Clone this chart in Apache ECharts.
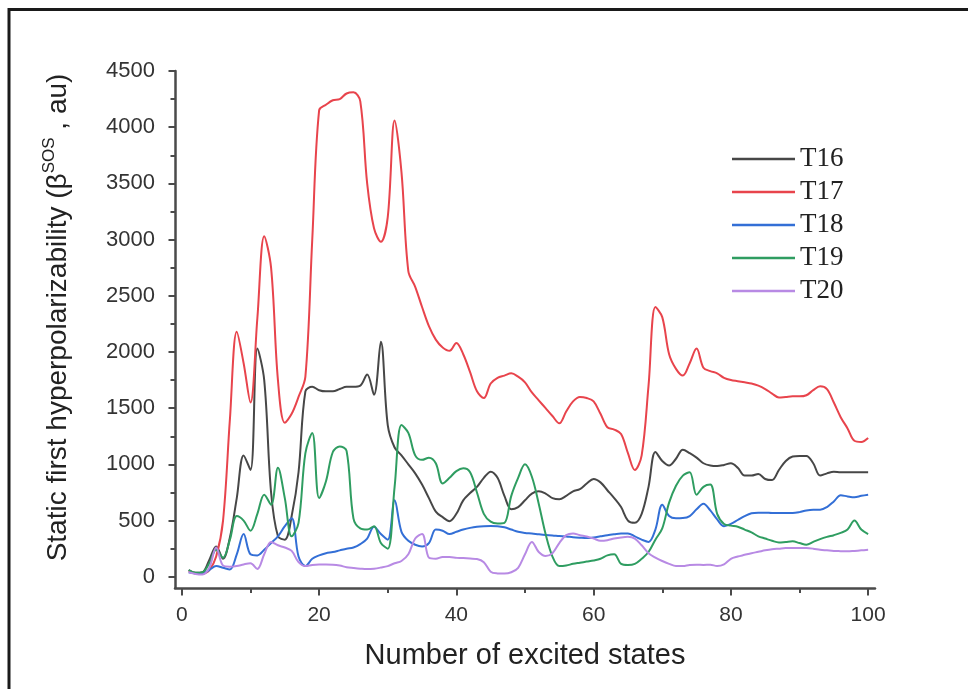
<!DOCTYPE html>
<html>
<head>
<meta charset="utf-8">
<script src="https://cdn.jsdelivr.net/npm/echarts@6/dist/echarts.min.js"></script>
<style>
html,body{margin:0;padding:0;background:#fff;}
#chart{width:968px;height:689px;}
</style>
</head>
<body>
<div id="chart"></div>
<script>
const states = [1,2,3,4,5,6,7,8,9,10,11,12,13,14,15,16,17,18,19,20,21,22,23,24,25,26,27,28,29,30,31,32,33,34,35,36,37,38,39,40,41,42,43,44,45,46,47,48,49,50,51,52,53,54,55,56,57,58,59,60,61,62,63,64,65,66,67,68,69,70,71,72,73,74,75,76,77,78,79,80,81,82,83,84,85,86,87,88,89,90,91,92,93,94,95,96,97,98,99,100];

const T16 = [60,35,40,150,270,160,350,700,1080,950,2030,1750,750,360,330,540,930,1650,1690,1660,1650,1650,1670,1690,1690,1700,1800,1620,2090,1350,1150,1080,1000,920,820,700,580,530,495,560,680,745,800,880,935,880,720,600,620,680,740,760,740,700,690,720,760,780,830,870,840,770,700,620,500,480,560,800,1110,1030,990,1050,1130,1100,1060,1010,990,985,995,1010,970,900,900,915,870,860,950,1030,1070,1075,1075,1010,900,920,935,930,930,930,930,930];

const T17 = [50,30,30,60,180,500,1400,2180,1900,1550,2300,3030,2750,1750,1370,1450,1600,1780,3000,4150,4200,4240,4250,4300,4310,4230,3500,3100,2980,3200,4060,3600,2720,2580,2400,2230,2110,2040,2010,2080,1980,1820,1650,1590,1720,1770,1790,1810,1780,1730,1640,1570,1500,1430,1365,1470,1560,1600,1590,1560,1450,1330,1310,1270,1100,950,1080,1700,2400,2310,1980,1850,1790,1900,2030,1860,1830,1810,1770,1750,1740,1730,1720,1700,1670,1630,1595,1600,1605,1605,1615,1660,1695,1670,1550,1420,1320,1210,1200,1235];

const T18 = [40,30,30,60,95,80,65,200,380,200,190,240,300,360,450,520,180,95,160,190,210,220,235,250,260,290,340,445,380,330,680,400,320,285,270,300,420,410,380,400,420,435,445,450,452,450,440,420,400,390,385,378,372,368,362,358,352,348,345,350,360,370,378,385,385,360,330,310,420,640,540,520,522,540,600,650,590,510,450,470,505,540,565,570,570,567,567,567,567,575,590,596,596,620,670,725,715,708,720,730];

const T19 = [60,35,40,120,240,170,330,540,500,410,560,730,640,970,700,360,480,1100,1280,700,850,1110,1160,1120,520,430,420,450,300,250,800,1350,1280,1080,1040,1060,1010,830,880,940,965,930,750,560,490,475,480,720,880,1000,890,650,380,180,95,100,115,125,135,145,160,190,200,115,105,115,160,220,330,430,660,810,900,930,730,800,820,560,470,455,445,420,395,360,340,320,305,310,315,300,285,310,335,355,370,390,420,500,420,380];

const T20 = [40,25,20,80,260,100,90,95,110,120,70,200,310,280,260,230,130,95,105,108,108,107,100,85,78,72,68,72,82,95,120,140,200,340,380,170,160,175,175,170,166,162,158,130,45,30,28,40,80,200,310,220,185,210,300,370,385,370,358,340,320,325,340,350,355,340,280,210,170,140,115,95,95,105,107,105,107,95,110,160,180,195,210,222,235,245,250,255,255,255,255,250,240,235,230,228,226,230,235,240];

const seriesNames = ['T16','T17','T18','T19','T20'];
const seriesColors = ['#474747','#e8444c','#336fd6','#2f9d61','#b88ae4'];
const xMajorTicks = [0,20,40,60,80,100];
const xMinorTicks = [10,30,50,70,90];
const yMajorTicks = [0,500,1000,1500,2000,2500,3000,3500,4000,4500];
const yMinorTicks = [250,750,1250,1750,2250,2750,3250,3750,4250];
const xTitle = 'Number of excited states';
const yTitle = '{a|Static first hyperpolarizability (β}{b|SOS}{a| , au)}';

const allData = [T16, T17, T18, T19, T20];

const chart = echarts.init(document.getElementById('chart'));
const axisColor = '#4a4a4a';
const labelFont = 'Liberation Sans, Arial, sans-serif';
const plain = v => String(v);

const option = {
  backgroundColor: '#ffffff',
  animation: false,
  graphic: [{
    type: 'rect',
    shape: { x: 9, y: 9.5, width: 1100, height: 800 },
    style: { fill: 'none', stroke: '#1a1a1a', lineWidth: 3 },
    silent: true
  }],
  grid: { left: 175, right: 93, top: 71, bottom: 101 },
  legend: {
    data: seriesNames,
    orient: 'vertical',
    left: 727,
    top: 140,
    icon: 'rect',
    itemWidth: 63,
    itemHeight: 2.5,
    itemGap: 5,
    textStyle: { fontFamily: 'Liberation Serif, Times New Roman, serif', fontSize: 27, color: '#222', lineHeight: 28 }
  },
  xAxis: [{
    type: 'value', min: -1, max: 101, gridIndex: 0, position: 'bottom',
    name: xTitle, nameLocation: 'middle', nameGap: 53,
    nameTextStyle: { fontFamily: labelFont, fontSize: 29, color: '#222' },
    axisLine: { show: true, onZero: false, lineStyle: { color: axisColor, width: 2.5 } },
    axisTick: { show: true, customValues: xMajorTicks, length: 7.5, inside: false, lineStyle: { color: axisColor, width: 2 } },
    axisLabel: { customValues: xMajorTicks, formatter: plain, margin: 17, fontFamily: labelFont, fontSize: 21, color: '#333' },
    splitLine: { show: false }
  }, {
    type: 'value', min: -1, max: 101, gridIndex: 0, position: 'bottom', offset: 0,
    axisLine: { show: true, onZero: false, lineStyle: { color: axisColor, width: 2.5, opacity: 0 } },
    axisTick: { show: true, customValues: xMinorTicks, length: 5, inside: false, lineStyle: { color: axisColor, width: 2 } },
    axisLabel: { show: false },
    splitLine: { show: false }
  }],
  yAxis: [{
    type: 'value', min: -100, max: 4500, gridIndex: 0, position: 'left',
    name: yTitle, nameLocation: 'middle', nameGap: 100,
    nameTextStyle: {
      color: '#222',
      padding: [0, 0, 0, 24],
      rich: {
        a: { fontFamily: labelFont, fontSize: 28, color: '#222', lineHeight: 34 },
        b: { fontFamily: labelFont, fontSize: 17, color: '#222', lineHeight: 34, verticalAlign: 'top' }
      }
    },
    axisLine: { show: true, onZero: false, lineStyle: { color: axisColor, width: 2.5 } },
    axisTick: { show: true, customValues: yMajorTicks, length: 6.5, inside: false, lineStyle: { color: axisColor, width: 2 } },
    axisLabel: { customValues: yMajorTicks, formatter: plain, margin: 20, fontFamily: labelFont, fontSize: 22, color: '#333' },
    splitLine: { show: false }
  }, {
    type: 'value', min: -100, max: 4500, gridIndex: 0, position: 'left', offset: 0,
    axisLine: { show: true, onZero: false, lineStyle: { color: axisColor, width: 2.5, opacity: 0 } },
    axisTick: { show: true, customValues: yMinorTicks, length: 4.5, inside: false, lineStyle: { color: axisColor, width: 2 } },
    axisLabel: { show: false },
    splitLine: { show: false }
  }],
  series: seriesNames.map((name, i) => ({
    name: name,
    type: 'line',
    xAxisIndex: 0,
    yAxisIndex: 0,
    smooth: 0.35,
    showSymbol: false,
    symbol: 'none',
    lineStyle: { color: seriesColors[i], width: 2 },
    itemStyle: { color: seriesColors[i] },
    data: states.map((s, j) => [s, allData[i][j]])
  }))
};
chart.setOption(option);
</script>
</body>
</html>
